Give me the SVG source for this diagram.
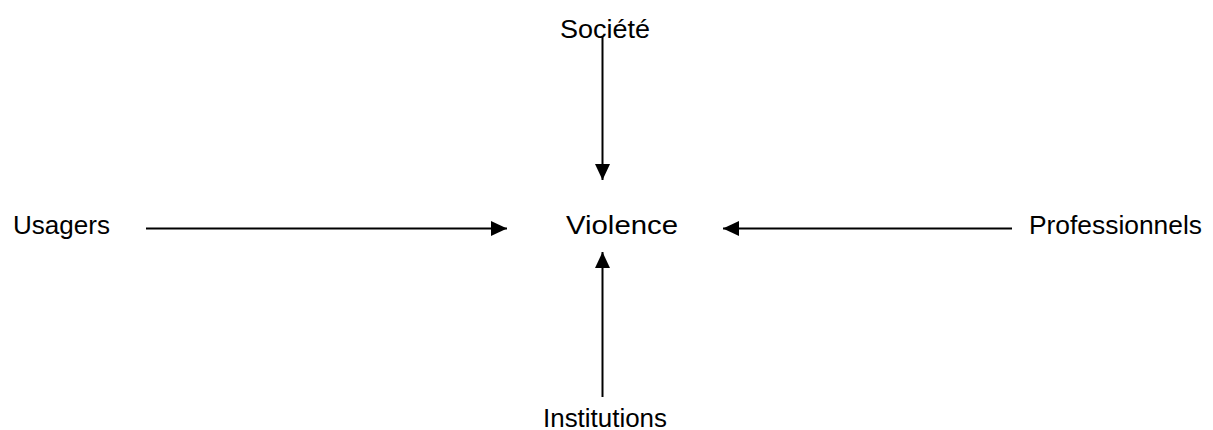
<svg xmlns="http://www.w3.org/2000/svg" width="1213" height="430" viewBox="0 0 1213 430">
<style>
.lbl{font-family:"Liberation Sans","DejaVu Sans",sans-serif;font-size:25px;fill:#000}
.con{stroke:#000;stroke-width:2;fill:none}
</style>
<defs>
<marker id="arr" markerUnits="userSpaceOnUse" markerWidth="16" markerHeight="16" refX="16" refY="7.5" orient="auto">
<path d="M0,0 L16,7.5 L0,15 Z" fill="#000"/>
</marker>
</defs>
<rect width="1213" height="430" fill="#fff"/>
<g id="connectors">
<line class="con" x1="602.5" y1="37" x2="602.5" y2="180" marker-end="url(#arr)"/>
<line class="con" x1="146" y1="228.5" x2="507" y2="228.5" marker-end="url(#arr)"/>
<line class="con" x1="1012" y1="228.5" x2="723" y2="228.5" marker-end="url(#arr)"/>
<line class="con" x1="602.5" y1="397" x2="602.5" y2="252" marker-end="url(#arr)"/>
</g>
<g id="societe"><text class="lbl" x="560" y="38" textLength="90" lengthAdjust="spacingAndGlyphs">Société</text></g>
<g id="usagers"><text class="lbl" x="13" y="234" textLength="97" lengthAdjust="spacingAndGlyphs">Usagers</text></g>
<g id="violence"><text class="lbl" x="566" y="234" textLength="112" lengthAdjust="spacingAndGlyphs">Violence</text></g>
<g id="professionnels"><text class="lbl" x="1029" y="234" textLength="173" lengthAdjust="spacingAndGlyphs">Professionnels</text></g>
<g id="institutions"><text class="lbl" x="543" y="427" textLength="124" lengthAdjust="spacingAndGlyphs">Institutions</text></g>
</svg>
